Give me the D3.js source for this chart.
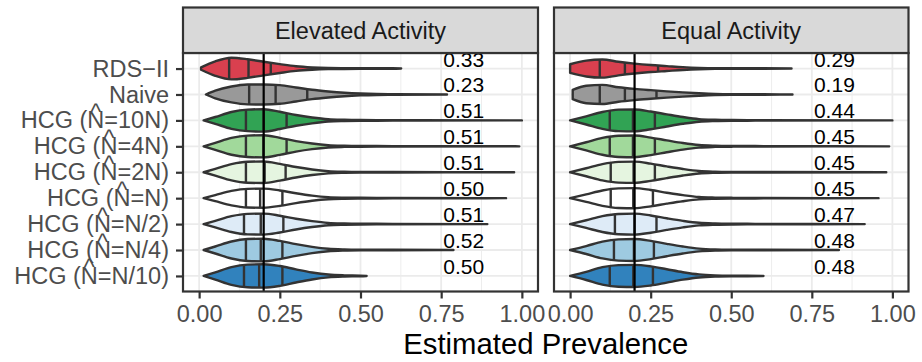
<!DOCTYPE html>
<html>
<head>
<meta charset="utf-8">
<script src="https://cdn.jsdelivr.net/npm/d3@7"></script>
<style>
  body { margin: 0; background: #fff; }
  text { font-family: "Liberation Sans", Arial, Helvetica, sans-serif; }
</style>
</head>
<body>
<svg id="chart" width="922" height="362"></svg>
<script>
// ---- data ----------------------------------------------------------------
const categories = ["RDS\u2212II", "Naive", "HCG (N=10N)", "HCG (N=4N)", "HCG (N=2N)",
                    "HCG (N=N)", "HCG (N=N/2)", "HCG (N=N/4)", "HCG (N=N/10)"];
const hatted = [false, false, true, true, true, true, true, true, true];
const facets = ["Elevated Activity", "Equal Activity"];
const fills = ["#d9404f", "#999999", "#31a354", "#a1d99b", "#e5f5e0",
               "#ffffff", "#deebf7", "#9ecae1", "#3182bd"];
const xTicks = [0, 0.25, 0.5, 0.75, 1];
const xMinor = [0.125, 0.375, 0.625, 0.875];
const trueValue = 0.2;

// coverage printed next to each violin
const labelsElevated = ["0.33", "0.23", "0.51", "0.51", "0.51", "0.50", "0.51", "0.52", "0.50"];
const labelsEqual    = ["0.29", "0.19", "0.44", "0.45", "0.45", "0.45", "0.47", "0.48", "0.48"];

// estimate range and quartiles
const minElevated = [0.006, 0.021, 0.014, 0.014, 0.014, 0.014, 0.014, 0.014, 0.014];
const maxElevated = [0.626, 0.768, 1.000, 0.992, 0.976, 0.951, 0.893, 0.788, 0.519];
const q25Elevated = [0.093, 0.155, 0.145, 0.145, 0.145, 0.145, 0.139, 0.145, 0.139];
const q50Elevated = [0.153, 0.237, 0.200, 0.199, 0.203, 0.189, 0.191, 0.191, 0.186];
const q75Elevated = [0.222, 0.335, 0.271, 0.271, 0.268, 0.258, 0.261, 0.258, 0.258];

const minEqual = [0.000, 0.008, 0.000, 0.000, 0.000, 0.000, 0.000, 0.000, 0.000];
const maxEqual = [0.687, 0.690, 1.000, 0.990, 0.981, 0.957, 0.914, 0.834, 0.600];
const q25Equal = [0.092, 0.092, 0.123, 0.123, 0.126, 0.126, 0.139, 0.136, 0.123];
const q50Equal = [0.170, 0.170, 0.195, 0.195, 0.197, 0.196, 0.200, 0.198, 0.196];
const q75Equal = [0.273, 0.268, 0.263, 0.263, 0.263, 0.257, 0.268, 0.260, 0.257];

// relative density (1 = full violin width) at the lower limit and on the grid
const densityGrid = [0.05, 0.10, 0.15, 0.20, 0.25, 0.30, 0.35, 0.40, 0.45, 0.50, 0.55, 0.60];
const startDensElevated = [0.10, 0, 0, 0, 0, 0, 0, 0, 0];
const densElevated = [
  [0.62, 0.93, 0.80, 0.58, 0.38, 0.20, 0.10, 0.05, 0.035, 0.03, 0.025, 0.02],
  [0.33, 0.68, 0.85, 0.86, 0.80, 0.60, 0.40, 0.26, 0.15, 0.08, 0.04, 0.025],
  [0.29, 0.72, 0.92, 0.96, 0.74, 0.46, 0.25, 0.10, 0.05, 0.03, 0.025, 0.02],
  [0.30, 0.72, 0.92, 0.95, 0.73, 0.45, 0.24, 0.10, 0.05, 0.03, 0.025, 0.02],
  [0.29, 0.70, 0.90, 0.92, 0.72, 0.45, 0.24, 0.10, 0.05, 0.03, 0.025, 0.02],
  [0.26, 0.62, 0.80, 0.82, 0.66, 0.42, 0.22, 0.09, 0.045, 0.03, 0.025, 0.02],
  [0.28, 0.68, 0.88, 0.90, 0.72, 0.46, 0.25, 0.10, 0.05, 0.03, 0.025, 0.02],
  [0.30, 0.73, 0.94, 0.97, 0.78, 0.50, 0.27, 0.11, 0.05, 0.03, 0.025, 0.02],
  [0.31, 0.76, 0.97, 1.00, 0.85, 0.56, 0.30, 0.12, 0.05, 0.025, 0.02, 0.02]
];
const startDensEqual = [0.37, 0.40, 0, 0, 0, 0, 0, 0, 0];
const densEqual = [
  [0.68, 0.78, 0.58, 0.42, 0.30, 0.21, 0.12, 0.06, 0.03, 0.025, 0.02, 0.02],
  [0.75, 0.82, 0.62, 0.48, 0.37, 0.27, 0.18, 0.11, 0.055, 0.03, 0.025, 0.02],
  [0.35, 0.72, 0.92, 0.94, 0.76, 0.52, 0.29, 0.11, 0.05, 0.03, 0.025, 0.02],
  [0.35, 0.72, 0.91, 0.93, 0.75, 0.51, 0.28, 0.11, 0.05, 0.03, 0.025, 0.02],
  [0.34, 0.70, 0.89, 0.91, 0.74, 0.50, 0.28, 0.11, 0.05, 0.03, 0.025, 0.02],
  [0.32, 0.66, 0.84, 0.86, 0.70, 0.47, 0.26, 0.10, 0.05, 0.03, 0.025, 0.02],
  [0.33, 0.68, 0.87, 0.90, 0.74, 0.50, 0.28, 0.11, 0.05, 0.03, 0.025, 0.02],
  [0.34, 0.72, 0.91, 0.94, 0.78, 0.53, 0.30, 0.12, 0.05, 0.03, 0.025, 0.02],
  [0.35, 0.75, 0.93, 0.95, 0.82, 0.57, 0.32, 0.13, 0.05, 0.025, 0.02, 0.02]
];

const facetData = [
  { name: facets[0], labels: labelsElevated, min: minElevated, max: maxElevated,
    q: [q25Elevated, q50Elevated, q75Elevated], d0: startDensElevated, dens: densElevated },
  { name: facets[1], labels: labelsEqual, min: minEqual, max: maxEqual,
    q: [q25Equal, q50Equal, q75Equal], d0: startDensEqual, dens: densEqual }
];

// ---- layout --------------------------------------------------------------
const svg = d3.select("#chart");
const panelTop = 53, panelBottom = 291.5, stripTop = 7.5;
const panelX = [[183, 538], [554, 908.5]];
const ink = "#333333";
const violinStroke = 2.4;

const y = d3.scalePoint().domain(categories).range([panelTop, panelBottom]).padding(0.6);
const halfBand = 0.45 * y.step();

svg.append("rect").attr("width", 922).attr("height", 362).attr("fill", "#fff");

facetData.forEach((fd, fi) => {
  const [x0, x1] = panelX[fi];
  const x = d3.scaleLinear().domain([-0.05, 1.05]).range([x0, x1]);
  const g = svg.append("g");

  const clipId = "clip" + fi;
  svg.append("clipPath").attr("id", clipId)
    .append("rect").attr("x", x0).attr("y", panelTop)
    .attr("width", x1 - x0).attr("height", panelBottom - panelTop);

  // grid
  const grid = g.append("g");
  grid.selectAll(".minor").data(xMinor).join("line")
    .attr("x1", d => x(d)).attr("x2", d => x(d))
    .attr("y1", panelTop).attr("y2", panelBottom)
    .attr("stroke", "#ebebeb").attr("stroke-width", 0.9);
  grid.selectAll(".majx").data(xTicks).join("line")
    .attr("x1", d => x(d)).attr("x2", d => x(d))
    .attr("y1", panelTop).attr("y2", panelBottom)
    .attr("stroke", "#ebebeb").attr("stroke-width", 1.8);
  grid.selectAll(".majy").data(categories).join("line")
    .attr("x1", x0).attr("x2", x1)
    .attr("y1", d => y(d)).attr("y2", d => y(d))
    .attr("stroke", "#ebebeb").attr("stroke-width", 1.8);

  const body = g.append("g").attr("clip-path", `url(#${clipId})`);

  // violins
  categories.forEach((cat, i) => {
    const cy = y(cat);
    const pts = [[fd.min[i], fd.d0[i]]];
    densityGrid.forEach((v, k) => {
      if (v > fd.min[i] && v < fd.max[i] - 0.01) pts.push([v, fd.dens[i][k]]);
    });
    pts.push([fd.max[i], 0]);

    const area = d3.area()
      .x(d => x(d[0]))
      .y0(d => cy + d[1] * halfBand)
      .y1(d => cy - d[1] * halfBand)
      .curve(d3.curveMonotoneX);
    body.append("path").attr("d", area(pts))
      .attr("fill", fills[i]).attr("stroke", ink)
      .attr("stroke-width", violinStroke).attr("stroke-linejoin", "round");

    // quartile lines follow the drawn outline
    const topLine = d3.line().x(d => x(d[0])).y(d => cy - d[1] * halfBand)
      .curve(d3.curveMonotoneX);
    const probe = svg.append("path").attr("d", topLine(pts))
      .attr("fill", "none").attr("stroke", "none");
    const node = probe.node();
    const total = node.getTotalLength();
    fd.q.forEach(qs => {
      const xt = x(qs[i]);
      let lo = 0, hi = total;
      for (let it = 0; it < 40; it++) {
        const mid = (lo + hi) / 2;
        if (node.getPointAtLength(mid).x < xt) lo = mid; else hi = mid;
      }
      const h = cy - node.getPointAtLength((lo + hi) / 2).y;
      body.append("line").attr("x1", xt).attr("x2", xt)
        .attr("y1", cy - h).attr("y2", cy + h)
        .attr("stroke", ink).attr("stroke-width", violinStroke);
    });
    probe.remove();
  });

  // reference value
  body.append("line").attr("x1", x(trueValue)).attr("x2", x(trueValue))
    .attr("y1", panelTop).attr("y2", panelBottom)
    .attr("stroke", "#000").attr("stroke-width", 2.2);

  // coverage labels
  body.selectAll(".cov").data(categories).join("text")
    .attr("x", x(0.82)).attr("y", d => y(d) - 2)
    .attr("text-anchor", "middle").attr("font-size", 21).attr("fill", "#000")
    .text((d, i) => fd.labels[i]);

  // panel border
  g.append("rect").attr("x", x0).attr("y", panelTop)
    .attr("width", x1 - x0).attr("height", panelBottom - panelTop)
    .attr("fill", "none").attr("stroke", ink).attr("stroke-width", 2.2);

  // strip
  g.append("rect").attr("x", x0).attr("y", stripTop)
    .attr("width", x1 - x0).attr("height", panelTop - stripTop)
    .attr("fill", "#d9d9d9").attr("stroke", ink).attr("stroke-width", 2.2);
  g.append("text").attr("x", (x0 + x1) / 2).attr("y", (stripTop + panelTop) / 2 + 8.4)
    .attr("text-anchor", "middle").attr("font-size", 23.5).attr("fill", "#1a1a1a")
    .text(fd.name);

  // x axis
  const ax = g.append("g").attr("transform", `translate(0,${panelBottom})`)
    .call(d3.axisBottom(x).tickValues(xTicks).tickFormat(d3.format(".2f"))
      .tickSize(7).tickPadding(6.5).tickSizeOuter(0));
  ax.select(".domain").remove();
  ax.selectAll(".tick line").attr("stroke", ink).attr("stroke-width", 2.2);
  ax.selectAll(".tick text").attr("font-size", 23.5).attr("fill", "#4d4d4d")
    .attr("font-family", "Liberation Sans, Arial, sans-serif");

  // y axis on the first panel only
  if (fi === 0) {
    const ay = g.append("g").attr("transform", `translate(${x0},0)`)
      .call(d3.axisLeft(y).tickSize(7).tickPadding(7).tickSizeOuter(0));
    ay.select(".domain").remove();
    ay.selectAll(".tick line").attr("stroke", ink).attr("stroke-width", 2.2);
    const tt = ay.selectAll(".tick text").attr("font-size", 23.5).attr("fill", "#4d4d4d")
      .attr("font-family", "Liberation Sans, Arial, sans-serif");
    // hat over the N of each HCG label
    tt.each(function (d, i) {
      if (!hatted[i]) return;
      const idx = d.indexOf("(") + 1;
      const ext = this.getExtentOfChar(idx);
      d3.select(this.parentNode).append("text")
        .attr("x", ext.x + ext.width / 2).attr("y", -1)
        .attr("text-anchor", "middle").attr("font-size", 23.5)
        .attr("fill", "#4d4d4d").attr("font-family", "Liberation Sans, Arial, sans-serif")
        .text("^");
    });
  }
});

// axis title
svg.append("text").attr("x", (panelX[0][0] + panelX[1][1]) / 2).attr("y", 354)
  .attr("text-anchor", "middle").attr("font-size", 29.3).attr("fill", "#000")
  .text("Estimated Prevalence");
</script>
</body>
</html>
